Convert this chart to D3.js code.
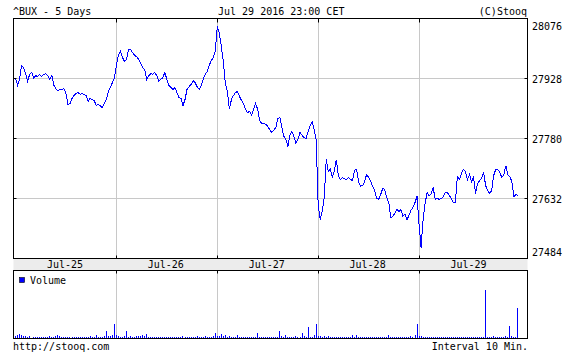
<!DOCTYPE html>
<html>
<head>
<meta charset="utf-8">
<script src="https://cdn.jsdelivr.net/npm/d3@7"></script>
<style>
  html, body { margin: 0; padding: 0; background: #fff; }
  svg { display: block; }
  text { font-family: "DejaVu Sans Mono", monospace; font-size: 10px; fill: #000; }
</style>
</head>
<body>
<svg id="chart"></svg>
<script>
// ^BUX 10-minute closes, one array per session (50 bars each)
const days = ['Jul-25', 'Jul-26', 'Jul-27', 'Jul-28', 'Jul-29'];

const close25 = [27930, 27911, 27926, 27960, 27955, 27940, 27921, 27938, 27943, 27930,
  27935, 27933, 27938, 27933, 27938, 27940, 27935, 27926, 27935, 27911,
  27903, 27898, 27901, 27901, 27903, 27891, 27864, 27866, 27879, 27886,
  27891, 27893, 27889, 27891, 27889, 27886, 27871, 27879, 27876, 27874,
  27861, 27864, 27861, 27856, 27866, 27876, 27896, 27906, 27918, 27928];
const close26 = [27960, 27985, 27995, 27980, 27970, 27975, 28000, 28000, 27992, 27985,
  27982, 27975, 27965, 27955, 27950, 27926, 27935, 27940, 27938, 27943,
  27935, 27921, 27926, 27930, 27943, 27926, 27911, 27906, 27901, 27906,
  27893, 27881, 27879, 27861, 27876, 27901, 27908, 27913, 27923, 27918,
  27908, 27901, 27911, 27926, 27938, 27945, 27960, 27972, 27980, 27995];
const close27 = [28056, 28041, 28007, 27970, 27916, 27896, 27852, 27876, 27886, 27893,
  27896, 27884, 27874, 27866, 27852, 27844, 27847, 27837, 27852, 27866,
  27852, 27824, 27817, 27817, 27815, 27810, 27802, 27795, 27800, 27807,
  27829, 27832, 27807, 27785, 27778, 27760, 27788, 27797, 27785, 27768,
  27778, 27795, 27788, 27782, 27780, 27797, 27812, 27822, 27802, 27778];
const close28 = [27617, 27580, 27600, 27634, 27728, 27699, 27704, 27684, 27699, 27728,
  27689, 27679, 27684, 27681, 27679, 27684, 27679, 27676, 27701, 27704,
  27674, 27662, 27664, 27674, 27691, 27684, 27674, 27662, 27652, 27632,
  27630, 27642, 27657, 27654, 27634, 27622, 27585, 27588, 27595, 27605,
  27600, 27605, 27588, 27593, 27580, 27590, 27603, 27610, 27622, 27637];
const close29 = [27568, 27511, 27580, 27620, 27647, 27639, 27644, 27659, 27630, 27632,
  27630, 27632, 27637, 27647, 27647, 27639, 27632, 27622, 27622, 27686,
  27679, 27694, 27704, 27699, 27679, 27691, 27674, 27684, 27644, 27669,
  27676, 27681, 27696, 27664, 27652, 27644, 27652, 27689, 27704, 27704,
  27696, 27684, 27691, 27713, 27691, 27686, 27674, 27637, 27642, 27639];

// volume per bar (relative units)
const vol25 = [30, 40, 50, 40, 30, 30, 20, 30, 10, 20, 20, 20, 20, 20, 20, 20, 20, 30, 20, 20,
  30, 40, 30, 20, 20, 20, 20, 20, 20, 20, 20, 20, 20, 20, 20, 20, 20, 30, 20, 20,
  40, 20, 20, 20, 30, 80, 30, 30, 40, 150];
const vol26 = [40, 30, 20, 20, 30, 80, 20, 30, 20, 20, 30, 30, 30, 40, 30, 50, 20, 20, 20, 20,
  20, 20, 20, 20, 20, 20, 20, 20, 20, 20, 20, 20, 20, 30, 20, 20, 20, 20, 20, 20,
  30, 20, 20, 20, 30, 20, 20, 20, 30, 60];
const vol27 = [30, 30, 50, 30, 40, 20, 30, 20, 20, 20, 40, 20, 20, 20, 20, 20, 20, 20, 20, 20,
  60, 20, 20, 20, 20, 20, 20, 20, 20, 20, 20, 80, 30, 20, 40, 20, 20, 20, 20, 30,
  20, 20, 60, 30, 20, 120, 20, 20, 40, 150];
const vol28 = [30, 30, 20, 30, 20, 30, 20, 20, 20, 20, 20, 20, 20, 20, 20, 20, 20, 40, 20, 40,
  20, 20, 20, 20, 20, 20, 20, 20, 20, 20, 20, 20, 20, 20, 20, 40, 20, 20, 20, 20,
  20, 20, 20, 20, 20, 20, 30, 20, 40, 150];
const vol29 = [30, 30, 20, 20, 20, 20, 20, 20, 20, 20, 20, 20, 20, 20, 20, 20, 20, 20, 20, 20,
  20, 20, 20, 20, 20, 20, 20, 20, 20, 20, 20, 20, 20, 490, 20, 20, 20, 30, 20, 20,
  20, 20, 20, 30, 20, 130, 30, 20, 20, 310];

const priceTicks = [27484, 27632, 27780, 27928, 28076];

const closes = [close25, close26, close27, close28, close29];
const volumes = [vol25, vol26, vol27, vol28, vol29];
const barsPerDay = 50;

// flatten into points with a fractional "day" position
const points = [];
closes.forEach((arr, d) => arr.forEach((c, j) => {
  points.push({ t: d + j / barsPerDay, close: c, volume: volumes[d][j] });
}));

const width = 573, height = 356;
const left = 13, right = 527.5;
const priceTop = 18.5, priceBottom = 258.5;
const volTop = 270.5, volBottom = 338.5;
const gridColor = '#c8c8c8';
const blue = '#0000ff';

const svg = d3.select('#chart')
  .attr('width', width)
  .attr('height', height);

svg.append('rect').attr('width', width).attr('height', height).attr('fill', '#fff');

const x = d3.scaleLinear().domain([-0.025, 5.075]).range([left, right]);
const y = d3.scaleLinear().domain([27484, 28076]).range([priceBottom, priceTop]);
const yv = d3.scaleLinear().domain([0, 680]).range([volBottom, volTop]);

const snap = v => Math.floor(v) + 0.5;

// label band under the price panel
svg.append('rect')
  .attr('x', left + 0.5).attr('y', priceBottom)
  .attr('width', right - left - 0.5).attr('height', volTop - priceBottom)
  .attr('fill', '#ececec');

// horizontal grid (price)
svg.selectAll('.hgrid')
  .data(priceTicks.slice(1, -1))
  .enter().append('line')
  .attr('x1', left).attr('x2', right)
  .attr('y1', d => snap(y(d))).attr('y2', d => snap(y(d)))
  .attr('stroke', gridColor);

// vertical grid at session boundaries, both panels
const bounds = d3.range(1, days.length);
[[priceTop, priceBottom], [volTop, volBottom]].forEach(([t, b]) => {
  svg.append('g').selectAll('line')
    .data(bounds)
    .enter().append('line')
    .attr('x1', d => snap(x(d))).attr('x2', d => snap(x(d)))
    .attr('y1', t).attr('y2', b)
    .attr('stroke', gridColor);
});

// price line (aliased, like the original bitmap)
const line = d3.line()
  .x(d => x(d.t))
  .y(d => y(d.close));

svg.append('path')
  .datum(points)
  .attr('d', line)
  .attr('fill', 'none')
  .attr('stroke', blue)
  .attr('stroke-width', 1)
  .attr('shape-rendering', 'crispEdges');

// volume bars
svg.selectAll('.vbar')
  .data(points)
  .enter().append('rect')
  .attr('x', d => Math.floor(x(d.t)))
  .attr('width', 1)
  .attr('y', d => Math.round(yv(d.volume)))
  .attr('height', d => Math.round(volBottom - 0.5) - Math.round(yv(d.volume)))
  .attr('fill', blue)
  .attr('shape-rendering', 'crispEdges');

// panel frames
const frame = (t, b) => svg.append('rect')
  .attr('x', left + 0.5).attr('y', t)
  .attr('width', right - left - 0.5).attr('height', b - t)
  .attr('fill', 'none').attr('stroke', '#000');
frame(priceTop, priceBottom);
frame(volTop, volBottom);

// tick marks
const tick = (x1, y1, x2, y2) => svg.append('line')
  .attr('x1', x1).attr('y1', y1).attr('x2', x2).attr('y2', y2)
  .attr('stroke', '#000');
bounds.forEach(d => {
  const xx = snap(x(d));
  tick(xx, priceTop, xx, priceTop + 4);
  tick(xx, priceBottom, xx, priceBottom - 3);
  tick(xx, volTop, xx, volTop + 3);
});
priceTicks.slice(1, -1).forEach(p => {
  const yy = snap(y(p));
  tick(left, yy, left + 3.5, yy);
  tick(right - 3, yy, right, yy);
});

// price labels on the right
svg.selectAll('.ylab')
  .data(priceTicks)
  .enter().append('text')
  .attr('x', 532)
  .attr('y', d => Math.max(30, Math.min(256, y(d) + 4)))
  .text(d => d);

// day labels in the band
svg.selectAll('.xlab')
  .data(days)
  .enter().append('text')
  .attr('x', (d, i) => x(i + 0.49))
  .attr('y', 268)
  .attr('text-anchor', 'middle')
  .text(d => d);

// header
svg.append('text').attr('x', 13).attr('y', 15).text('^BUX - 5 Days');
svg.append('text').attr('x', 218).attr('y', 15).text('Jul 29 2016 23:00 CET');
svg.append('text').attr('x', 527).attr('y', 15).attr('text-anchor', 'end').text('(C)Stooq');

// volume legend
svg.append('rect')
  .attr('x', 19.5).attr('y', 277.5).attr('width', 5).attr('height', 5)
  .attr('fill', blue).attr('stroke', '#000').attr('stroke-width', 0.6);
svg.append('text').attr('x', 30).attr('y', 284).text('Volume');

// footer
svg.append('text').attr('x', 13).attr('y', 350).text('http://stooq.com');
svg.append('text').attr('x', 528).attr('y', 350).attr('text-anchor', 'end').text('Interval 10 Min.');
</script>
</body>
</html>
